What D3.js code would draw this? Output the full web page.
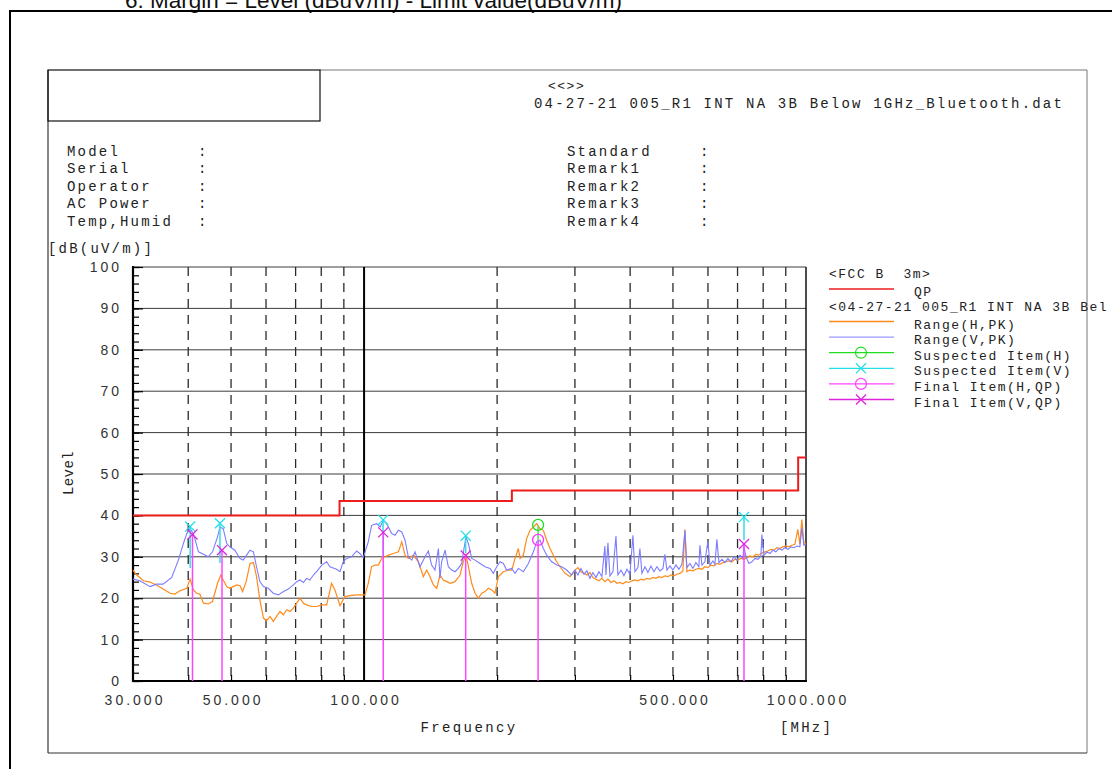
<!DOCTYPE html>
<html>
<head>
<meta charset="utf-8">
<script src="https://cdn.jsdelivr.net/npm/d3@7"></script>
<style>
  body { margin: 0; background: #fff; }
  svg { display: block; }
  text { white-space: pre; }
</style>
</head>
<body>
<svg width="1112" height="769"></svg>
<script>
// values (MHz, dBuV/m)

var limitFreq = [30, 88, 216, 960, 1000];
var limitQP = [40, 43.5, 46, 54, 54];

var rangeH = [
  [30.0,26.8],[30.6,25.6],[31.7,24.2],[32.8,23.9],[33.9,23.2],[35.1,22.2],[36.4,21.2],[37.3,21.0],[38.3,21.8],[39.7,22.4],
  [40.4,24.6],[41.1,22.0],[41.8,21.2],[42.5,21.0],[43.3,18.8],[44.4,18.6],[45.4,19.2],[46.6,23.6],[47.4,25.6],[48.0,24.4],
  [48.9,22.8],[49.7,22.4],[50.6,22.8],[51.5,23.2],[52.4,23.0],[53.1,21.6],[54.1,24.0],[55.2,28.4],[56.2,28.6],[57.1,25.2],
  [58.1,19.6],[59.2,15.2],[60.2,14.6],[61.3,15.6],[62.3,14.4],[63.4,15.6],[64.5,16.8],[65.7,16.0],[66.8,17.2],[68.0,16.8],
  [69.2,17.6],[70.4,18.8],[71.6,20.0],[72.9,18.8],[74.1,18.4],[76.1,18.0],[78.1,18.0],[80.2,18.4],[82.3,18.4],[84.4,23.6],
  [85.9,22.0],[88.2,18.2],[90.5,20.4],[92.9,20.6],[96.2,20.8],[99.6,20.8],[100.5,20.8],[102.2,23.6],[104.0,27.6],[105.9,28.0],
  [107.7,28.0],[109.6,29.6],[111.5,30.0],[113.5,30.4],[116.5,30.8],[119.6,31.2],[121.7,33.6],[123.8,30.4],[125.9,29.6],[129.3,30.4],
  [132.7,28.8],[136.2,25.2],[138.6,26.8],[141.0,25.2],[143.5,23.2],[146.0,22.4],[148.5,25.6],[151.1,24.4],[153.8,24.0],[156.5,23.6],
  [160.6,24.0],[164.9,25.6],[167.7,28.8],[170.1,30.4],[172.2,27.6],[175.2,23.6],[178.3,21.2],[181.4,20.0],[184.6,21.2],[187.8,21.6],
  [191.1,22.4],[194.4,22.0],[197.8,21.2],[201.3,25.2],[206.6,26.4],[212.1,26.8],[215.8,26.8],[219.6,29.6],[223.4,32.0],[225.4,29.6],
  [229.3,30.4],[233.3,34.4],[237.4,36.4],[241.6,37.2],[245.8,38.0],[250.1,36.8],[254.5,36.4],[259.0,34.0],[263.5,32.0],[268.1,30.4],
  [272.8,28.8],[277.6,27.6],[284.9,26.0],[292.4,25.2],
  [300.0,26.8],[304.7,27.4],[309.5,26.4],[314.4,26.0],[319.4,25.6],[324.4,26.2],[329.5,25.0],[334.7,24.6],[339.9,24.2],[345.3,24.8],
  [350.7,24.0],[356.3,24.6],[361.9,23.8],[367.6,24.2],[373.4,23.6],[379.2,23.8],[385.2,23.5],[391.3,24.0],[397.4,23.8],[403.7,24.2],
  [410.1,24.4],[416.5,24.2],[423.1,24.6],[429.7,24.4],[436.5,24.8],[443.4,24.6],[450.4,25.0],[457.5,24.8],[464.7,25.2],[472.0,25.0],
  [479.4,25.4],[487.0,25.2],[494.6,25.6],[502.4,25.4],[510.3,25.8],[518.4,26.0],[526.5,26.6],[532.1,36.6],[537.6,26.4],[546.1,26.8],
  [554.7,26.6],[563.4,27.0],[572.3,27.2],[581.3,27.0],[590.5,27.6],[599.8,27.4],[609.2,28.0],[618.8,27.8],[628.5,28.4],[638.4,28.2],
  [648.5,28.6],[658.7,28.8],[669.1,29.0],[679.6,28.8],[690.3,29.4],[701.2,29.2],[712.2,29.6],[723.5,29.4],[734.9,29.8],[746.4,30.2],
  [758.2,30.0],[770.1,30.6],[782.3,30.4],[794.6,30.9],[807.1,31.2],[819.8,31.4],[832.7,31.8],[845.8,31.6],[859.1,32.2],[872.7,32.0],
  [886.4,32.4],[900.4,32.6],[914.6,32.4],[929.0,32.8],[943.6,33.0],[958.5,36.6],[968.5,33.0],[978.6,39.0],[988.9,33.4],[999.2,33.2]
];

var rangeV = [
  [30.0,24.6],[31.1,24.2],[32.8,22.8],[33.9,23.4],[35.1,23.4],[36.7,25.0],[38.0,29.2],[39.0,33.2],[39.7,35.6],[40.4,36.8],
  [41.1,35.6],[42.2,31.2],[43.3,30.6],[44.4,30.0],[45.4,31.2],[46.6,34.8],[47.2,37.2],[48.0,36.8],[48.9,33.2],[49.7,32.4],
  [51.0,31.6],[52.4,29.6],[53.3,29.2],[54.2,30.4],[55.2,31.6],[56.2,31.2],[57.1,27.6],[58.1,24.0],[59.2,22.8],[60.7,22.4],
  [62.3,21.2],[64.0,20.8],[65.7,21.6],[67.4,22.2],[69.2,23.2],[70.4,24.0],[71.6,24.4],[72.9,23.8],[74.1,24.8],[75.4,24.4],
  [76.8,25.6],[78.1,26.4],[80.2,28.0],[82.3,28.8],[83.7,27.6],[86.7,27.0],[88.2,26.4],[89.7,28.8],[91.3,29.6],[93.7,30.0],
  [96.2,31.4],[97.8,30.8],[99.6,29.8],[102.2,33.6],[104.0,37.6],[106.8,38.0],[108.7,37.2],[110.6,38.8],[112.5,38.0],[115.5,35.6],
  [117.5,35.2],[119.6,36.4],[121.7,36.0],[123.8,34.0],[125.9,30.0],[128.2,29.2],[130.4,31.2],[133.8,27.6],[137.4,30.0],[139.8,31.4],
  [142.2,28.0],[144.7,26.8],[147.3,32.0],[148.5,24.8],[149.8,28.8],[152.5,31.6],[155.1,27.6],[157.9,26.8],[160.6,26.4],[163.4,27.2],
  [166.3,28.4],[168.3,32.0],[170.1,34.8],[172.2,33.2],[175.2,29.6],[178.3,29.2],[183.0,28.4],[187.8,27.6],[192.8,27.2],[196.1,26.0],
  [199.6,27.6],[203.1,28.8],[206.6,28.4],[210.2,26.8],[215.8,27.2],[219.6,26.0],[223.4,27.2],[229.3,26.4],[235.4,28.4],[241.6,31.2],
  [245.8,33.6],[250.1,34.0],[254.5,32.0],[259.0,30.4],[265.8,28.8],[272.8,28.0],[280.0,27.6],[287.4,26.8],[295.0,25.6],
  [300.0,26.8],[304.7,25.6],[309.5,27.2],[314.4,25.8],[319.4,26.6],[324.4,24.8],[329.5,26.2],[334.7,25.0],[339.9,26.4],[345.3,25.2],
  [350.7,32.6],[352.6,25.6],[356.3,33.4],[360.0,25.4],[365.7,26.4],[371.5,35.0],[375.3,25.6],[381.3,26.8],[387.3,25.4],[393.4,27.0],
  [399.6,25.8],[405.8,35.2],[410.1,26.4],[416.5,27.4],[420.9,32.0],[425.3,26.0],[432.0,27.6],[438.8,26.2],[445.8,27.8],[452.8,26.4],
  [459.9,27.6],[467.2,26.6],[474.5,27.2],[479.4,30.6],[484.5,26.8],[492.2,27.8],[499.9,26.8],[507.8,28.0],[515.8,27.0],[523.9,28.2],
  [532.1,36.4],[537.6,27.4],[546.1,28.4],[554.7,27.2],[563.4,28.6],[572.3,27.6],[575.4,32.8],[581.3,28.0],[590.5,28.8],[599.8,33.8],
  [606.2,28.0],[615.8,29.0],[622.2,28.2],[628.5,34.2],[635.3,28.6],[645.3,29.4],[655.5,28.6],[665.8,29.6],[676.3,28.8],[687.0,30.0],
  [697.8,29.2],[708.8,30.4],[719.9,29.6],[723.5,32.6],[731.3,30.0],[742.8,28.4],[754.5,28.8],[766.4,29.6],[778.5,29.4],[790.7,30.2],
  [794.6,35.4],[803.2,30.4],[815.9,31.2],[828.7,30.8],[841.7,31.6],[855.0,31.2],[868.5,32.0],[882.2,31.6],[895.7,32.2],[910.2,31.8],
  [924.5,32.4],[939.1,32.2],[953.9,32.6],[968.5,32.4],[978.6,37.0],[988.9,32.8],[999.2,33.0]
];

// [freq, level, stem bottom]
var suspectedH = [[247.6, 37.7, 34.1]];
var suspectedV = [[40.4, 37.3, 27.3], [47.2, 38.1, 28.5], [110.4, 38.9, 30.0], [169.8, 35.1, 30.9], [723.9, 39.6, 34.0]];
// [freq, level]
var finalH = [[247.6, 34.1]];
var finalV = [[40.9, 35.4], [47.7, 31.6], [110.5, 35.9], [169.8, 30.3], [723.9, 33.1]];

var yTicks = [0, 10, 20, 30, 40, 50, 60, 70, 80, 90, 100];
var yMinor = d3.range(0, 101, 2);
var xLabels = [30, 50, 100, 500, 1000];
var xGrid = [40, 50, 60, 70, 80, 90, 200, 300, 400, 500, 600, 700, 800, 900];

var leftFields = ["Model", "Serial", "Operator", "AC Power", "Temp,Humid"];
var rightFields = ["Standard", "Remark1", "Remark2", "Remark3", "Remark4"];

var legendItems = [
  {label: "Range(H,PK)", color: "#ff8a1c", sym: null},
  {label: "Range(V,PK)", color: "#9a9aff", sym: null},
  {label: "Suspected Item(H)", color: "#22dd22", sym: "circle"},
  {label: "Suspected Item(V)", color: "#22e0e8", sym: "x"},
  {label: "Final Item(H,QP)", color: "#ff44ff", sym: "circle"},
  {label: "Final Item(V,QP)", color: "#dd22dd", sym: "x"}
];

var mono = "'Liberation Mono', 'DejaVu Sans Mono', monospace";
var sans = "'Liberation Sans', Arial, sans-serif";

var svg = d3.select("svg");

var x = d3.scaleLog().domain([30, 1000]).range([133, 806]);
var y = d3.scaleLinear().domain([0, 100]).range([681, 267]);

function mtext(g, tx, ty, s, size, spacing) {
  return g.append("text")
    .attr("x", tx).attr("y", ty)
    .attr("xml:space", "preserve")
    .style("font-family", mono)
    .style("font-size", size + "px")
    .style("letter-spacing", spacing + "px")
    .attr("fill", "#222")
    .text(s);
}

// ---------- page frame ----------
svg.append("text")
  .attr("x", 125).attr("y", 8)
  .style("font-family", sans).style("font-size", "22.5px")
  .attr("fill", "#111")
  .text("6. Margin = Level (dBuV/m) - Limit value(dBuV/m)");

svg.append("rect")
  .attr("x", 10).attr("y", 11).attr("width", 1200).attr("height", 900)
  .attr("fill", "none").attr("stroke", "#000").attr("stroke-width", 2);

var frame = svg.append("g");
frame.append("line").attr("x1", 48).attr("y1", 70).attr("x2", 48).attr("y2", 753).attr("stroke", "#111");
frame.append("line").attr("x1", 320).attr("y1", 70).attr("x2", 1087).attr("y2", 70).attr("stroke", "#777");
frame.append("line").attr("x1", 1087).attr("y1", 70).attr("x2", 1087).attr("y2", 753).attr("stroke", "#777");
frame.append("line").attr("x1", 48).attr("y1", 753).attr("x2", 1087).attr("y2", 753).attr("stroke", "#333");
frame.append("rect").attr("x", 48).attr("y", 70).attr("width", 272).attr("height", 51)
  .attr("fill", "none").attr("stroke", "#111").attr("stroke-width", 1.2);

// ---------- header ----------
var head = svg.append("g");
mtext(head, 548, 90, "<<>>", 13, 1.5);
mtext(head, 534, 108, "04-27-21 005_R1 INT NA 3B Below 1GHz_Bluetooth.dat", 14, 2.2);

leftFields.forEach(function(d, i) {
  mtext(head, 67, 156 + i * 17.4, d, 14, 2.2);
  mtext(head, 198, 156 + i * 17.4, ":", 14, 0);
});
rightFields.forEach(function(d, i) {
  mtext(head, 567, 156 + i * 17.4, d, 14, 2.2);
  mtext(head, 700, 156 + i * 17.4, ":", 14, 0);
});
mtext(head, 48, 253, "[dB(uV/m)]", 14, 2.2);

// ---------- plot grid ----------
var plot = svg.append("g");

plot.append("g").selectAll("line").data(yTicks.slice(1))
  .enter().append("line")
  .attr("x1", x(30)).attr("x2", x(1000))
  .attr("y1", function(d) { return y(d); })
  .attr("y2", function(d) { return y(d); })
  .attr("stroke", "#3c3c3c").attr("stroke-width", 1);

plot.append("g").selectAll("line").data(xGrid)
  .enter().append("line")
  .attr("x1", function(d) { return x(d); })
  .attr("x2", function(d) { return x(d); })
  .attr("y1", y(100)).attr("y2", y(0))
  .attr("stroke", "#2a2a2a").attr("stroke-width", 1.3)
  .attr("stroke-dasharray", "9,7");

plot.append("line")
  .attr("x1", x(100)).attr("x2", x(100)).attr("y1", y(100)).attr("y2", y(0))
  .attr("stroke", "#000").attr("stroke-width", 2);
plot.append("line")
  .attr("x1", x(1000)).attr("x2", x(1000)).attr("y1", y(100)).attr("y2", y(0))
  .attr("stroke", "#111").attr("stroke-width", 1.5);

// axes
var yMinorAxis = d3.axisLeft(y).tickValues(yMinor).tickSize(-6).tickFormat("");
var yAxis = d3.axisLeft(y).tickValues(yTicks).tickSize(-10).tickPadding(14);
var xMinorAxis = d3.axisBottom(x).tickValues(xGrid).tickSize(-6).tickFormat("");
var xAxis = d3.axisBottom(x).tickValues(xLabels).tickSize(0).tickPadding(14).tickFormat(d3.format(".3f"));

var gym = plot.append("g").attr("transform", "translate(" + x(30) + ",0)").call(yMinorAxis);
var gy = plot.append("g").attr("transform", "translate(" + x(30) + ",0)").call(yAxis);
var gxm = plot.append("g").attr("transform", "translate(0," + y(0) + ")").call(xMinorAxis);
var gx = plot.append("g").attr("transform", "translate(0," + y(0) + ")").call(xAxis);

[gym, gy, gxm, gx].forEach(function(g) {
  g.select(".domain").remove();
  g.selectAll(".tick line").attr("stroke", "#000").attr("stroke-width", 1.2);
});
gy.selectAll("text")
  .style("font-family", sans).style("font-size", "14px").style("letter-spacing", "3px")
  .attr("fill", "#333").attr("dx", "3px");
gx.selectAll("text")
  .style("font-family", sans).style("font-size", "14px").style("letter-spacing", "3px")
  .attr("fill", "#333").attr("dx", "1.5px");

plot.append("line")
  .attr("x1", x(30)).attr("x2", x(30)).attr("y1", y(100) - 1).attr("y2", y(0) + 1)
  .attr("stroke", "#000").attr("stroke-width", 2.2);
plot.append("line")
  .attr("x1", x(30) - 1).attr("x2", x(1000) + 1).attr("y1", y(0)).attr("y2", y(0))
  .attr("stroke", "#000").attr("stroke-width", 2.2);

// axis titles
mtext(plot, 469, 732, "Frequency", 14, 2.4).attr("text-anchor", "middle");
mtext(plot, 780, 732, "[MHz]", 14, 2.2);
mtext(plot, 0, 0, "Level", 14, 0.4)
  .attr("text-anchor", "middle")
  .attr("transform", "translate(73,473) rotate(-90)");

// ---------- limit & traces ----------
var limitLine = d3.line().curve(d3.curveStepAfter)
  .x(function(d, i) { return x(limitFreq[i]); })
  .y(function(d) { return y(d); });
plot.append("path").datum(limitQP)
  .attr("d", limitLine)
  .attr("fill", "none").attr("stroke", "#ee1c1c").attr("stroke-width", 2);

var trace = d3.line()
  .x(function(d) { return x(d[0]); })
  .y(function(d) { return y(d[1]); });

plot.append("path").datum(rangeH)
  .attr("d", trace)
  .attr("fill", "none").attr("stroke", "#ff8a1c").attr("stroke-width", 1.2);
plot.append("path").datum(rangeV)
  .attr("d", trace)
  .attr("fill", "none").attr("stroke", "#7c7cff").attr("stroke-width", 1.1);

// ---------- markers ----------
var xSym = d3.symbol().type(d3.symbolX).size(68);
var oSym = d3.symbol().type(d3.symbolCircle).size(95);

var marks = plot.append("g");

marks.selectAll(".stemV").data(suspectedV).enter().append("line")
  .attr("x1", function(d) { return x(d[0]); }).attr("x2", function(d) { return x(d[0]); })
  .attr("y1", function(d) { return y(d[1]); }).attr("y2", function(d) { return y(d[2]); })
  .attr("stroke", "#33dde8").attr("stroke-width", 1.5);
marks.selectAll(".stemH").data(suspectedH).enter().append("line")
  .attr("x1", function(d) { return x(d[0]); }).attr("x2", function(d) { return x(d[0]); })
  .attr("y1", function(d) { return y(d[1]); }).attr("y2", function(d) { return y(d[2]); })
  .attr("stroke", "#55dd55").attr("stroke-width", 1.5);

marks.selectAll(".stemF").data(finalV.concat(finalH)).enter().append("line")
  .attr("x1", function(d) { return x(d[0]); }).attr("x2", function(d) { return x(d[0]); })
  .attr("y1", function(d) { return y(d[1]); }).attr("y2", y(0))
  .attr("stroke", "#ff44ff").attr("stroke-width", 1.5);

marks.selectAll(".symSV").data(suspectedV).enter().append("path")
  .attr("d", xSym)
  .attr("transform", function(d) { return "translate(" + x(d[0]) + "," + y(d[1]) + ")"; })
  .attr("fill", "none").attr("stroke", "#22e0e8").attr("stroke-width", 1.3);
marks.selectAll(".symSH").data(suspectedH).enter().append("path")
  .attr("d", oSym)
  .attr("transform", function(d) { return "translate(" + x(d[0]) + "," + y(d[1]) + ")"; })
  .attr("fill", "none").attr("stroke", "#22dd22").attr("stroke-width", 1.3);
marks.selectAll(".symFV").data(finalV).enter().append("path")
  .attr("d", xSym)
  .attr("transform", function(d) { return "translate(" + x(d[0]) + "," + y(d[1]) + ")"; })
  .attr("fill", "none").attr("stroke", "#dd22dd").attr("stroke-width", 1.3);
marks.selectAll(".symFH").data(finalH).enter().append("path")
  .attr("d", oSym)
  .attr("transform", function(d) { return "translate(" + x(d[0]) + "," + y(d[1]) + ")"; })
  .attr("fill", "none").attr("stroke", "#ff33ff").attr("stroke-width", 1.3);

// ---------- legend ----------
var leg = svg.append("g");
mtext(leg, 829, 278, "<FCC B  3m>", 13, 1.5);
leg.append("line").attr("x1", 829).attr("x2", 894).attr("y1", 289).attr("y2", 289)
  .attr("stroke", "#ee1c1c").attr("stroke-width", 1.5);
mtext(leg, 914, 296, "QP", 13, 1.5);
mtext(leg, 829, 311, "<04-27-21 005_R1 INT NA 3B Bel", 13, 1.5);

legendItems.forEach(function(d, i) {
  var ly = 321.5 + i * 15.6;
  leg.append("line").attr("x1", 829).attr("x2", 894).attr("y1", ly).attr("y2", ly)
    .attr("stroke", d.color).attr("stroke-width", 1.3);
  if (d.sym) {
    leg.append("path")
      .attr("d", d.sym === "x" ? xSym() : oSym())
      .attr("transform", "translate(861," + ly + ")")
      .attr("fill", "none").attr("stroke", d.color).attr("stroke-width", 1.2);
  }
  mtext(leg, 914, ly + 7, d.label, 13, 1.5);
});
</script>
</body>
</html>
